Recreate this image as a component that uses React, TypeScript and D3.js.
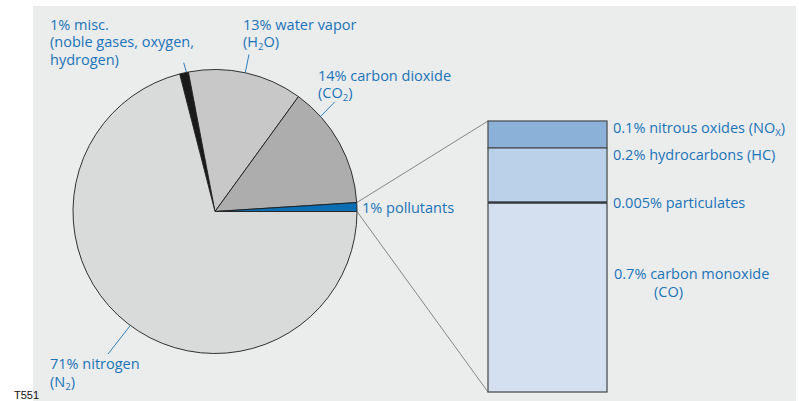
import React from "react";
import * as d3 from "d3";

// Exhaust gas composition (percent)
const pieLabels = ["misc", "water vapor", "carbon dioxide", "pollutants", "nitrogen"];
const pieValues = [1, 13, 14, 1, 71];
const pieColors = ["#1a1a1a", "#c7c8c7", "#acadac", "#0b6db3", "#d9dada"];

// Breakdown of the pollutant share, stacked top to bottom
const pollutantNames = ["nitrous oxides", "hydrocarbons", "particulates", "carbon monoxide"];
const pollutantValues = [0.1, 0.2, 0.005, 0.7];
const pollutantColors = ["#8cb1d8", "#bbd1e9", "#1c2a33", "#d4dff0"];

const W = 799;
const H = 401;
const BLUE = "#1a74b9";
const FONT = "'Open Sans', 'Noto Sans', sans-serif";

const deg = Math.PI / 180;

export default function App() {
  const cx = 215;
  const cy = 211.5;
  const r = 142;

  const pie = d3
    .pie<number>()
    .sort(null)
    .value((d) => d)
    .startAngle(-14.4 * deg)
    .endAngle(-14.4 * deg + 2 * Math.PI);
  const arcs = pie(pieValues);
  const arc = d3.arc<d3.PieArcDatum<number>>().innerRadius(0).outerRadius(r);

  // point on the pie rim for a d3 angle (clockwise from 12 o'clock)
  const rim = (a: number, rr = r) => [cx + rr * Math.sin(a), cy - rr * Math.cos(a)];

  // stacked pollutant bar
  const total = d3.sum(pollutantValues);
  const barX0 = 488;
  const barX1 = 607;
  const y = d3.scaleLinear().domain([0, total]).range([121, 392]);
  const stacks = pollutantValues.map((v, i) => {
    const start = d3.sum(pollutantValues.slice(0, i));
    return { v, y0: y(start), y1: y(start + v), color: pollutantColors[i], name: pollutantNames[i] };
  });

  const pol = arcs[3];
  const pTop = rim(pol.startAngle);
  const pBot = rim(pol.endAngle);

  // leader lines: rim angle (d3) -> outer end point
  const leaders = [
    { a: -11.6 * deg, end: [183.7, 62.7] },
    { a: 12.3 * deg, end: [249, 54.3] },
    { a: 48 * deg, end: [335, 101.7] },
    { a: 216.6 * deg, end: [108, 354] },
  ];

  const textStyle = { fontFamily: FONT, fontSize: 14.5, fill: BLUE } as const;
  const sub = { fontSize: 9.5 } as const;

  return (
    <svg
      width={W}
      height={H}
      style={{ position: "fixed", left: 0, top: 0, display: "block" }}
      viewBox={`0 0 ${W} ${H}`}
    >
      <rect x={0} y={0} width={W} height={H} fill="#ffffff" />
      <rect x={33} y={6} width={763} height={H - 6} fill="#ebecec" />

      {/* pie */}
      <g transform={`translate(${cx},${cy})`}>
        {arcs.map((a, i) => (
          <path
            key={pieLabels[i]}
            d={arc(a) || ""}
            fill={pieColors[i]}
            stroke="#1d1d1d"
            strokeWidth={0.9}
            strokeLinejoin="round"
          />
        ))}
      </g>

      {/* zoom connectors */}
      <line x1={pTop[0]} y1={pTop[1]} x2={barX0} y2={y(0)} stroke="#6b6b6b" strokeWidth={0.8} />
      <line x1={pBot[0]} y1={pBot[1]} x2={barX0} y2={y(total)} stroke="#6b6b6b" strokeWidth={0.8} />

      {/* stacked bar */}
      {stacks.map((s) => (
        <rect
          key={s.name}
          x={barX0}
          y={s.y0}
          width={barX1 - barX0}
          height={Math.max(s.y1 - s.y0, 1.6)}
          fill={s.color}
          stroke={s.name === "particulates" ? "none" : "#4d5256"}
          strokeWidth={1.3}
        />
      ))}

      {/* leaders */}
      {leaders.map((l, i) => {
        const p = rim(l.a);
        return <line key={i} x1={p[0]} y1={p[1]} x2={l.end[0]} y2={l.end[1]} stroke={BLUE} strokeWidth={0.9} />;
      })}

      {/* pie labels */}
      <text {...textStyle}>
        <tspan x={50} y={29.5}>1% misc.</tspan>
        <tspan x={50} y={47}>(noble gases, oxygen,</tspan>
        <tspan x={50} y={64.5}>hydrogen)</tspan>
      </text>
      <text {...textStyle}>
        <tspan x={243} y={29.5}>13% water vapor</tspan>
        <tspan x={243} y={47}>(H</tspan>
        <tspan {...sub} dy={3}>2</tspan>
        <tspan dy={-3}>O)</tspan>
      </text>
      <text {...textStyle}>
        <tspan x={318} y={80.5}>14% carbon dioxide</tspan>
        <tspan x={318} y={98}>(CO</tspan>
        <tspan {...sub} dy={3}>2</tspan>
        <tspan dy={-3}>)</tspan>
      </text>
      <text {...textStyle} x={362} y={213}>1% pollutants</text>
      <text {...textStyle}>
        <tspan x={50} y={369}>71% nitrogen</tspan>
        <tspan x={50} y={386.5}>(N</tspan>
        <tspan {...sub} dy={3}>2</tspan>
        <tspan dy={-3}>)</tspan>
      </text>

      {/* bar labels */}
      <text {...textStyle} x={613} y={132.5}>
        0.1% nitrous oxides (NO
        <tspan {...sub} dy={3}>X</tspan>
        <tspan dy={-3}>)</tspan>
      </text>
      <text {...textStyle} x={613} y={160}>0.2% hydrocarbons (HC)</text>
      <text {...textStyle} x={613} y={208.3}>0.005% particulates</text>
      <text {...textStyle}>
        <tspan x={614} y={279}>0.7% carbon monoxide</tspan>
        <tspan x={654} y={296.5}>(CO)</tspan>
      </text>

      <text x={14} y={399} fontFamily="'Liberation Sans', Arial, sans-serif" fontSize={11} fill="#111">
        T551
      </text>
    </svg>
  );
}
